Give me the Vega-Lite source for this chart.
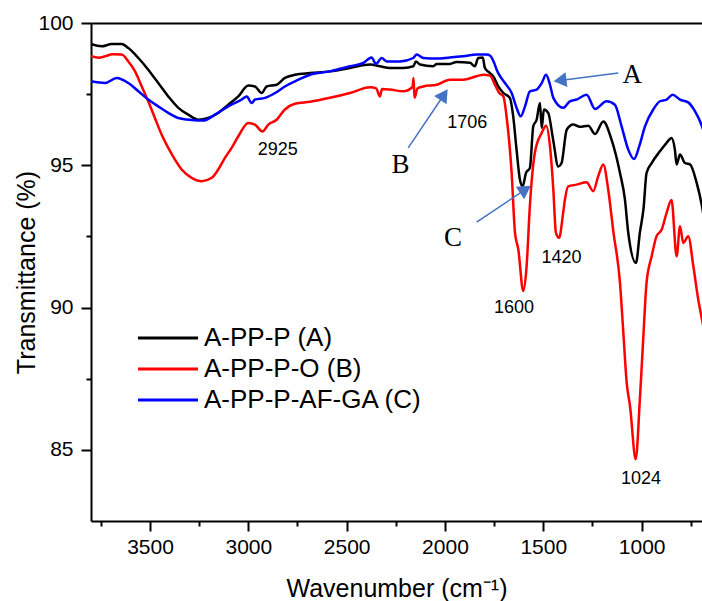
{
  "$schema": "https://vega.github.io/schema/vega-lite/v6.json",
  "width": 611,
  "height": 498,
  "autosize": {"type": "none"},
  "padding": {"left": 91, "top": 23, "right": 0, "bottom": 80},
  "background": "white",
  "config": {"view": {"stroke": null}, "font": "Liberation Sans"},
  "datasets": {
    "A": [
      [3800,99.26],[3746,99.18],[3695,99.26],[3644,99.26],[3610,99.12],[3559,98.77],[3509,98.36],[3458,97.89],[3407,97.42],[3356,97.02],[3305,96.78],[3254,96.6],[3204,96.66],[3153,96.84],[3102,97.13],[3051,97.42],[3000,97.8],[2966,97.77],[2932,97.54],[2907,97.77],[2856,97.83],[2814,98.07],[2763,98.18],[2686,98.24],[2585,98.3],[2483,98.42],[2381,98.54],[2331,98.48],[2280,98.42],[2212,98.42],[2161,98.48],[2148,98.65],[2127,98.54],[2060,98.48],[2042,98.56],[1975,98.56],[1941,98.63],[1873,98.6],[1848,98.48],[1831,98.77],[1808,98.79],[1797,98.42],[1771,98.24],[1754,98.12],[1729,97.77],[1703,97.54],[1670,97.37],[1653,96.72],[1636,95.55],[1619,94.5],[1605,94.26],[1588,94.73],[1568,94.91],[1551,96.37],[1534,96.6],[1517,97.19],[1508,96.31],[1497,96.96],[1475,96.84],[1450,95.9],[1424,94.96],[1407,95.08],[1381,96.25],[1348,96.43],[1314,96.35],[1271,96.39],[1237,96.1],[1195,96.54],[1153,95.9],[1110,94.73],[1085,93.8],[1068,92.63],[1029,91.57],[1009,92.63],[990,93.5],[975,94.73],[949,95.08],[907,95.49],[873,95.79],[848,95.96],[831,95.55],[822,95.03],[805,95.38],[780,95.08],[754,95.03],[720,94.38],[693,93.56],[680,93.0]
    ],
    "B": [
      [3800,98.83],[3760,98.78],[3729,98.83],[3690,98.9],[3644,98.89],[3610,98.65],[3576,98.3],[3542,97.77],[3509,97.25],[3475,96.66],[3441,96.08],[3407,95.61],[3373,95.2],[3339,94.85],[3288,94.56],[3237,94.44],[3186,94.56],[3153,94.85],[3119,95.26],[3085,95.61],[3051,96.02],[3000,96.49],[2966,96.43],[2929,96.19],[2898,96.43],[2856,96.6],[2814,96.96],[2763,97.16],[2686,97.23],[2585,97.37],[2483,97.54],[2381,97.74],[2350,97.7],[2331,97.42],[2320,97.68],[2280,97.66],[2212,97.6],[2165,97.75],[2160,98.07],[2155,97.37],[2140,97.7],[2110,97.77],[2042,97.83],[1975,98.01],[1907,98.01],[1839,98.13],[1805,98.18],[1771,98.15],[1746,97.83],[1724,97.54],[1703,97.42],[1687,96.72],[1661,94.73],[1644,92.63],[1627,92.04],[1602,90.58],[1585,91.45],[1568,93.6],[1543,95.44],[1508,96.14],[1486,96.39],[1466,95.67],[1449,94.15],[1436,92.63],[1420,92.45],[1399,93.33],[1390,93.8],[1373,94.26],[1330,94.32],[1280,94.4],[1246,94.09],[1221,94.61],[1195,95.03],[1170,94.15],[1144,92.68],[1110,90.87],[1093,89.12],[1076,87.36],[1059,86.54],[1030,84.67],[1009,86.77],[992,88.88],[975,90.87],[949,91.8],[924,92.51],[898,92.74],[873,93.33],[848,93.78],[822,91.8],[805,92.86],[788,92.27],[763,92.51],[737,91.45],[712,90.28],[693,89.58],[680,89.1]
    ],
    "C": [
      [3800,97.95],[3729,97.89],[3669,98.07],[3610,97.89],[3559,97.6],[3509,97.31],[3458,97.07],[3407,96.84],[3356,96.66],[3288,96.59],[3229,96.57],[3170,96.78],[3102,97.07],[3034,97.31],[3008,97.42],[2983,97.19],[2966,97.31],[2915,97.37],[2864,97.54],[2814,97.77],[2763,97.95],[2686,98.18],[2585,98.3],[2483,98.48],[2415,98.6],[2373,98.79],[2351,98.56],[2322,98.77],[2297,98.65],[2229,98.65],[2161,98.77],[2144,98.89],[2110,98.77],[2042,98.75],[1975,98.79],[1907,98.83],[1839,98.89],[1788,98.89],[1770,98.85],[1750,98.6],[1737,98.36],[1729,98.24],[1695,97.89],[1661,97.54],[1636,97.02],[1615,96.72],[1593,97.07],[1568,97.6],[1534,97.66],[1508,97.89],[1486,98.18],[1466,97.83],[1449,97.37],[1399,97.02],[1365,97.25],[1330,97.31],[1280,97.48],[1237,96.98],[1178,97.25],[1136,97.13],[1102,96.37],[1068,95.55],[1039,95.22],[1012,95.67],[983,96.37],[941,96.96],[907,97.25],[873,97.31],[842,97.48],[805,97.31],[763,97.21],[729,96.9],[693,96.37],[680,96.1]
    ],
    "peaks": [
      {"wn": 2850, "T": 95.52, "label": "2925"},
      {"wn": 1887, "T": 96.49, "label": "1706"},
      {"wn": 1649, "T": 89.99, "label": "1600"},
      {"wn": 1407, "T": 91.75, "label": "1420"},
      {"wn": 1003, "T": 83.99, "label": "1024"}
    ],
    "letters": [
      {"wn": 1048, "T": 98.17, "label": "A"},
      {"wn": 2226, "T": 95.0, "label": "B"},
      {"wn": 1959, "T": 92.44, "label": "C"}
    ],
    "arrows": [
      {"id": "A", "wn": 1119, "T": 98.24, "wn2": 1415, "T2": 97.98},
      {"id": "B", "wn": 2187, "T": 95.61, "wn2": 2005, "T2": 97.48},
      {"id": "C", "wn": 1839, "T": 93.0, "wn2": 1591, "T2": 94.15}
    ]
  },
  "layer": [
    {
      "data": {"name": "A"},
      "transform": [
        {"calculate": "'A-PP-P (A)'", "as": "sample"},
        {"calculate": "datum[0]", "as": "wn"},
        {"calculate": "datum[1]", "as": "T"}
      ],
      "mark": {"type": "line", "strokeWidth": 2.5, "clip": true, "interpolate": "monotone"},
      "encoding": {
        "x": {"field": "wn", "type": "quantitative",
          "scale": {"domain": [693, 3800], "reverse": true, "nice": false, "zero": false},
          "axis": {"orient": "bottom", "values": [1000, 1500, 2000, 2500, 3000, 3500], "format": "d", "tickSize": 10, "tickWidth": 2, "tickColor": "#000", "domainColor": "#000", "domainWidth": 2, "labelFontSize": 21, "labelColor": "#000", "labelPadding": 5, "labelFont": "Liberation Sans", "grid": false, "title": "Wavenumber (cm⁻¹)", "titleFont": "Liberation Sans", "titleFontSize": 25, "titleFontWeight": "normal", "titleColor": "#000", "titlePadding": 19}},
        "y": {"field": "T", "type": "quantitative",
          "scale": {"domain": [82.5, 100], "nice": false, "zero": false},
          "axis": {"orient": "left", "values": [85, 90, 95, 100], "tickSize": 10, "tickWidth": 2, "tickColor": "#000", "domainColor": "#000", "domainWidth": 2, "labelFontSize": 21, "labelColor": "#000", "labelPadding": 8, "labelFont": "Liberation Sans", "grid": false, "title": "Transmittance (%)", "titleFont": "Liberation Sans", "titleFontSize": 25, "titleFontWeight": "normal", "titleColor": "#000", "titlePadding": -2}},
        "color": {"field": "sample", "type": "nominal",
          "scale": {"domain": ["A-PP-P (A)", "A-PP-P-O (B)", "A-PP-P-AF-GA (C)"], "range": ["#000000", "#ff0000", "#0000ff"]},
          "legend": {"orient": "none", "legendX": 64, "legendY": 302, "title": null, "symbolType": "M-4,0L4,0", "symbolSize": 225, "symbolStrokeWidth": 3, "labelFontSize": 26, "labelFont": "Liberation Sans", "labelColor": "#000", "labelOffset": 23, "rowPadding": 5, "padding": 0, "labelLimit": 400}}
      }
    },
    {
      "data": {"name": "B"},
      "transform": [
        {"calculate": "'A-PP-P-O (B)'", "as": "sample"},
        {"calculate": "datum[0]", "as": "wn"},
        {"calculate": "datum[1]", "as": "T"}
      ],
      "mark": {"type": "line", "strokeWidth": 2.5, "clip": true, "interpolate": "monotone"},
      "encoding": {
        "x": {"field": "wn", "type": "quantitative", "axis": null},
        "y": {"field": "T", "type": "quantitative", "axis": null},
        "color": {"field": "sample", "type": "nominal"}
      }
    },
    {
      "data": {"name": "C"},
      "transform": [
        {"calculate": "'A-PP-P-AF-GA (C)'", "as": "sample"},
        {"calculate": "datum[0]", "as": "wn"},
        {"calculate": "datum[1]", "as": "T"}
      ],
      "mark": {"type": "line", "strokeWidth": 2.5, "clip": true, "interpolate": "monotone"},
      "encoding": {
        "x": {"field": "wn", "type": "quantitative", "axis": null},
        "y": {"field": "T", "type": "quantitative", "axis": null},
        "color": {"field": "sample", "type": "nominal"}
      }
    },
    {
      "data": {"name": "peaks"},
      "mark": {"type": "text", "fontSize": 18, "font": "Liberation Sans", "color": "#000", "align": "center", "baseline": "middle"},
      "encoding": {
        "x": {"field": "wn", "type": "quantitative",
          "axis": {"orient": "bottom", "values": [750, 1250, 1750, 2250, 2750, 3250, 3750], "tickSize": 5, "tickWidth": 2, "tickColor": "#000", "labels": false, "domain": false, "grid": false, "title": null}},
        "y": {"field": "T", "type": "quantitative",
          "axis": {"orient": "left", "values": [87.5, 92.5, 97.5], "tickSize": 5, "tickWidth": 2, "tickColor": "#000", "labels": false, "domain": false, "grid": false, "title": null}},
        "text": {"field": "label"}
      }
    },
    {
      "data": {"name": "letters"},
      "mark": {"type": "text", "fontSize": 27, "font": "Liberation Serif", "color": "#000", "align": "center", "baseline": "middle"},
      "encoding": {
        "x": {"field": "wn", "type": "quantitative",
          "axis": {"orient": "top", "ticks": false, "labels": false, "domain": true, "domainColor": "#000", "domainWidth": 2, "grid": false, "title": null}},
        "y": {"field": "T", "type": "quantitative", "axis": null},
        "text": {"field": "label"}
      }
    },
    {
      "data": {"name": "arrows"},
      "mark": {"type": "rule", "color": "#4472C4", "strokeWidth": 1.5},
      "encoding": {
        "x": {"field": "wn", "type": "quantitative", "axis": null},
        "y": {"field": "T", "type": "quantitative", "axis": null},
        "x2": {"field": "wn2"},
        "y2": {"field": "T2"}
      }
    },
    {
      "data": {"name": "arrows"},
      "transform": [{"filter": "datum.id === 'A'"}],
      "mark": {"type": "point", "shape": "triangle-right", "size": 225, "filled": true, "opacity": 1, "color": "#4472C4", "angle": 172.7},
      "encoding": {
        "x": {"field": "wn2", "type": "quantitative", "axis": null},
        "y": {"field": "T2", "type": "quantitative", "axis": null}
      }
    },
    {
      "data": {"name": "arrows"},
      "transform": [{"filter": "datum.id === 'B'"}],
      "mark": {"type": "point", "shape": "triangle-right", "size": 225, "filled": true, "opacity": 1, "color": "#4472C4", "angle": 304},
      "encoding": {
        "x": {"field": "wn2", "type": "quantitative", "axis": null},
        "y": {"field": "T2", "type": "quantitative", "axis": null}
      }
    },
    {
      "data": {"name": "arrows"},
      "transform": [{"filter": "datum.id === 'C'"}],
      "mark": {"type": "point", "shape": "triangle-right", "size": 225, "filled": true, "opacity": 1, "color": "#4472C4", "angle": 326.1},
      "encoding": {
        "x": {"field": "wn2", "type": "quantitative", "axis": null},
        "y": {"field": "T2", "type": "quantitative", "axis": null}
      }
    }
  ],
  "resolve": {"axis": {"x": "independent", "y": "independent"}}
}
